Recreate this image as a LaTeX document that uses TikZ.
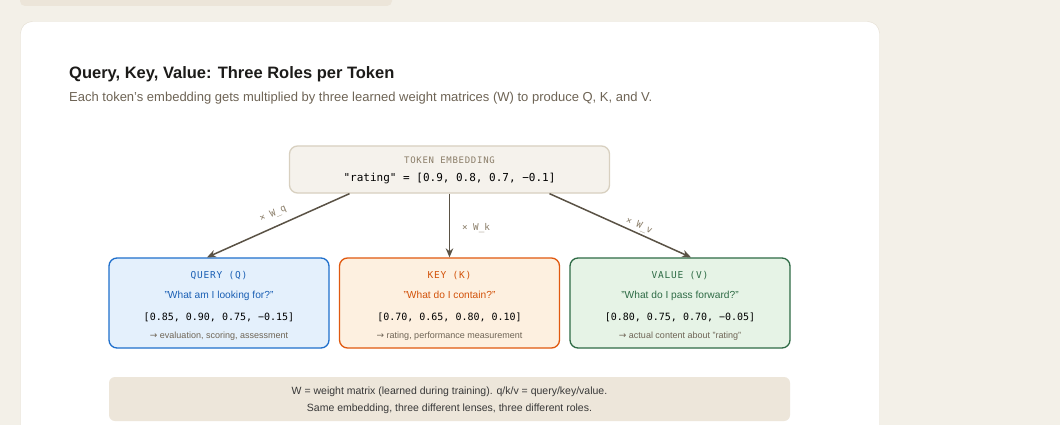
\documentclass[tikz,border=0pt]{standalone}
\usepackage{fontspec}
\setmainfont{Liberation Sans}
\setmonofont{DejaVu Sans Mono}
\newfontfamily\symfont{DejaVu Sans}
\newfontfamily\spacedmono[LetterSpace=8]{DejaVu Sans Mono}
\usetikzlibrary{positioning, arrows.meta}

\definecolor{pagebg}{HTML}{F3F0E8}
\definecolor{stripbg}{HTML}{ECE5D9}
\definecolor{cardline}{HTML}{E4DDD0}
\definecolor{tokfill}{HTML}{F5F2EC}
\definecolor{tokline}{HTML}{D8D0C0}
\definecolor{muted}{HTML}{8A7D68}
\definecolor{subtext}{HTML}{6E6455}
\definecolor{arrowc}{HTML}{5A5245}
\definecolor{qfill}{HTML}{E4F0FC}
\definecolor{qline}{HTML}{1F6FCC}
\definecolor{qtext}{HTML}{1A5FB4}
\definecolor{kfill}{HTML}{FDF0E0}
\definecolor{kline}{HTML}{E0580E}
\definecolor{ktext}{HTML}{D2520A}
\definecolor{vfill}{HTML}{E6F3E6}
\definecolor{vline}{HTML}{2E6B45}
\definecolor{vtext}{HTML}{2E6B45}
\definecolor{notefill}{HTML}{EDE6DA}
\definecolor{ink}{HTML}{1C1B19}

\begin{document}
\begin{tikzpicture}[x=1pt, y=-1pt, >={Stealth[length=9pt, width=7.5pt]}, node distance=230.5pt]
    \tikzstyle{role} = [draw, line width=1.3pt, rounded corners=8pt, minimum width=220pt, minimum height=90pt, inner sep=0pt]
    \tikzstyle{rolename} = [anchor=base, font=\spacedmono\fontsize{9.5}{11}\selectfont]
    \tikzstyle{ask} = [anchor=base, font=\fontsize{10.2}{12}\selectfont]
    \tikzstyle{vec} = [anchor=base, font=\ttfamily\fontsize{10}{12}\selectfont]
    \tikzstyle{hint} = [anchor=base, text=subtext, font=\fontsize{9}{10}\selectfont]
    \tikzstyle{wlabel} = [text=muted, font=\ttfamily\fontsize{9.3}{10}\selectfont]
    \tikzstyle{proj} = [->, arrowc, line width=1.5pt]

    % page and card
    \useasboundingbox (0,0) rectangle (1060,425);
    \fill[pagebg] (0,0) rectangle (1060,425);
    \fill[stripbg, rounded corners=5pt] (20,-10) rectangle (392,6);
    \draw[cardline, fill=white, rounded corners=12pt] (20.5,21.5) rectangle (879.5,445);

    \node[anchor=base west, inner sep=0pt, text=ink, font=\bfseries\fontsize{16.5}{19}\selectfont] (title) at (69,78.5) {Query, Key, Value: Three Roles per Token};
    \node[anchor=base west, inner sep=0pt, text=subtext, font=\fontsize{13}{15}\selectfont] (subtitle) at (69,102) {Each token's embedding gets multiplied by three learned weight matrices (W) to produce Q, K, and V.};

    % token embedding
    \node[draw=tokline, fill=tokfill, line width=1.3pt, rounded corners=8pt, minimum width=320pt, minimum height=47pt] (tok) at (449.5,169.5) {};
    \node[anchor=base, text=muted, font=\spacedmono\fontsize{9}{10}\selectfont] (toklabel) at (449.5,163.5) {TOKEN EMBEDDING};
    \node[anchor=base, font=\ttfamily\fontsize{11}{12}\selectfont] (tokvec) at (449.5,181) {"rating" = [0.9, 0.8, 0.7, −0.1]};

    % the three roles
    \node[role, draw=qline, fill=qfill] (q) at (219,303) {};
    \node[role, draw=kline, fill=kfill, right of=q] (k) {};
    \node[role, draw=vline, fill=vfill, right of=k] (v) {};

    \node[rolename, text=qtext] (qname) at (219,278) {QUERY (Q)};
    \node[ask, text=qtext] (qask) at (219,298) {"What am I looking for?"};
    \node[vec] (qvec) at (219,320) {[0.85, 0.90, 0.75, −0.15]};
    \node[hint] (qhint) at (219,338.5) {{\symfont →} evaluation, scoring, assessment};

    \node[rolename, text=ktext] (kname) at (449.5,278) {KEY (K)};
    \node[ask, text=ktext] (kask) at (449.5,298) {"What do I contain?"};
    \node[vec] (kvec) at (449.5,320) {[0.70, 0.65, 0.80, 0.10]};
    \node[hint] (khint) at (449.5,338.5) {{\symfont →} rating, performance measurement};

    \node[rolename, text=vtext] (vname) at (680,278) {VALUE (V)};
    \node[ask, text=vtext] (vask) at (680,298) {"What do I pass forward?"};
    \node[vec] (vvec) at (680,320) {[0.80, 0.75, 0.70, −0.05]};
    \node[hint] (vhint) at (680,338.5) {{\symfont →} actual content about "rating"};

    % projections
    \draw[proj] ([xshift=-100pt]tok.south) -- ([xshift=-12pt]q.north);
    \draw[proj] (tok.south) -- (k.north);
    \draw[proj] ([xshift=100pt]tok.south) -- ([xshift=11pt]v.north);

    \node[wlabel, rotate=23] (wq) at (273,214) {× W\_q};
    \node[wlabel] (wk) at (476,228) {× W\_k};
    \node[wlabel, rotate=-24] (wv) at (639,226) {× W\_v};

    % footnote
    \node[fill=notefill, rounded corners=6pt, minimum width=681pt, minimum height=44pt] (note) at (449.5,399) {};
    \node[anchor=base, text=black!78, font=\fontsize{10.5}{12}\selectfont] (note1) at (449.5,394.5) {W = weight matrix (learned during training). q/k/v = query/key/value.};
    \node[anchor=base, text=black!78, font=\fontsize{10.5}{12}\selectfont] (note2) at (449.5,411.5) {Same embedding, three different lenses, three different roles.};
\end{tikzpicture}
\end{document}
